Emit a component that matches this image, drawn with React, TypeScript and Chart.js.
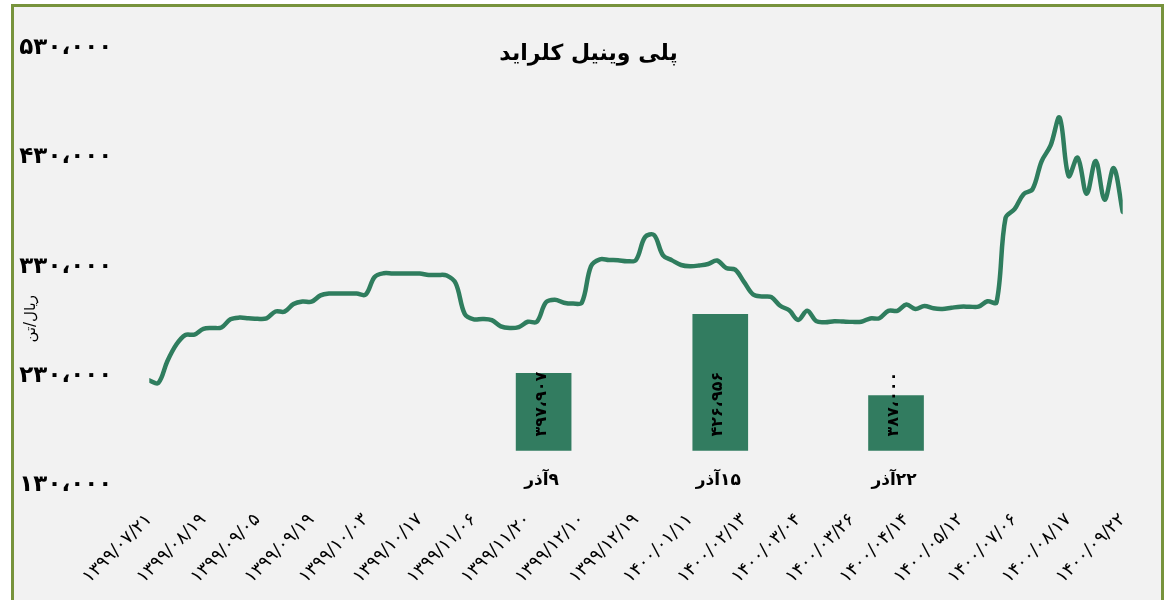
import React, { useEffect, useRef } from 'react';
import { Chart, registerables } from 'chart.js';

Chart.register(...registerables);

const chartTitle = 'پلی وینیل کلراید';
const yAxisTitle = 'ریال/تن';

const tickLabels = [
  '۱۳۹۹/۰۷/۲۱', '۱۳۹۹/۰۸/۱۹', '۱۳۹۹/۰۹/۰۵', '۱۳۹۹/۰۹/۱۹', '۱۳۹۹/۱۰/۰۳',
  '۱۳۹۹/۱۰/۱۷', '۱۳۹۹/۱۱/۰۶', '۱۳۹۹/۱۱/۲۰', '۱۳۹۹/۱۲/۱۰', '۱۳۹۹/۱۲/۱۹',
  '۱۴۰۰/۰۱/۱۱', '۱۴۰۰/۰۲/۱۳', '۱۴۰۰/۰۳/۰۴', '۱۴۰۰/۰۳/۲۶', '۱۴۰۰/۰۴/۱۴',
  '۱۴۰۰/۰۵/۱۲', '۱۴۰۰/۰۷/۰۶', '۱۴۰۰/۰۸/۱۷', '۱۴۰۰/۰۹/۲۲',
];

// points between two labelled dates
const pointsPerLabel = 6;

const priceValues = [
  228650, 226210, 246150, 261400, 270160, 270520, 275760, 276570, 277020, 284510,
  286050, 285500, 284960, 285410, 291640, 291550, 298500, 300850, 300580, 306350,
  308070, 308070, 308070, 308070, 307070, 323230, 326570, 326390, 326390, 326390,
  326390, 325030, 325030, 324490, 317360, 289290, 284420, 284870, 283700, 278010,
  276480, 277380, 282250, 282250, 299940, 302470, 299670, 298860, 299940, 332980,
  339380, 338750, 338570, 337670, 338750, 359690, 361580, 342990, 338390, 334150,
  333070, 333700, 335050, 338210, 331350, 329910, 318540, 307160, 305360, 304820,
  296880, 292720, 283970, 292270, 282800, 281890, 282800, 282440, 282160, 282350,
  285320, 285500, 292180, 292270, 297960, 293990, 296690, 294530, 293990, 295070,
  296060, 296060, 296060, 301030, 299940, 377110, 385230, 398950, 403460, 429000,
  443440, 469000, 415460, 432340, 399220, 429270, 393800, 422680, 382700,
];

const barCategories = ['۹آذر', '۱۵آذر', '۲۲آذر'];
const barValues = [397907, 426956, 387000];
// where each bar sits along the date axis (point index)
const barPositions = [43.75, 63.35, 82.85];
const barBase = 360000;

const yTicks = { min: 130000, max: 530000, step: 100000 };

const LINE_COLOR = '#2F7D5E';
const BAR_COLOR = '#327C60';
const FONT = '"DejaVu Sans"';

const toFa = (s: string) => s.replace(/[0-9]/g, (d) => '۰۱۲۳۴۵۶۷۸۹'[+d]);
const fmt = (v: number) =>
  toFa(Math.round(v).toString().replace(/\B(?=(\d{3})+(?!\d))/g, '،'));

const overlayPlugin = {
  id: 'overlayText',
  afterDatasetsDraw(chart: any) {
    const ctx: CanvasRenderingContext2D = chart.ctx;
    const area = chart.chartArea;
    ctx.save();
    ctx.fillStyle = '#000';

    // title
    ctx.direction = 'rtl';
    ctx.textAlign = 'center';
    ctx.textBaseline = 'middle';
    ctx.font = `bold 22px ${FONT}`;
    ctx.fillText(chartTitle, chart.width / 2 + 5, area.top + 3);

    // y axis title
    const ys = chart.scales.y;
    ctx.save();
    ctx.translate(31, ys.getPixelForValue(285000));
    ctx.rotate(-Math.PI / 2);
    ctx.font = `15px ${FONT}`;
    ctx.fillText(yAxisTitle, 0, 0);
    ctx.restore();

    // bar labels
    const meta = chart.getDatasetMeta(1);
    meta.data.forEach((bar: any, i: number) => {
      const { x, base } = bar.getProps(['x', 'base'], true);
      ctx.save();
      ctx.translate(x - 2, base - 14);
      ctx.rotate(-Math.PI / 2);
      ctx.direction = 'ltr';
      ctx.textAlign = 'left';
      ctx.textBaseline = 'middle';
      ctx.font = `bold 16px ${FONT}`;
      ctx.fillText(fmt(barValues[i]), 0, 0);
      ctx.restore();

      ctx.direction = 'rtl';
      ctx.textAlign = 'center';
      ctx.textBaseline = 'middle';
      ctx.font = `bold 17px ${FONT}`;
      ctx.fillText(barCategories[i], x - 2, base + 30);
    });
    ctx.restore();
  },
};

export default function App() {
  const ref = useRef<HTMLCanvasElement>(null);

  useEffect(() => {
    Chart.defaults.font.family = FONT;
    const lastIndex = (tickLabels.length - 1) * pointsPerLabel;
    const chart = new Chart(ref.current as HTMLCanvasElement, {
      type: 'line',
      data: {
        datasets: [
          {
            type: 'line',
            label: 'PVC',
            data: priceValues.map((v, i) => ({ x: i, y: v })),
            xAxisID: 'x',
            yAxisID: 'y',
            borderColor: LINE_COLOR,
            borderWidth: 4.5,
            pointRadius: 0,
            tension: 0.35,
            fill: false,
            borderCapStyle: 'round',
            borderJoinStyle: 'round',
          } as any,
          {
            type: 'bar',
            label: 'bars',
            data: barValues.map((v, i) => ({ x: barPositions[i], y: v })),
            xAxisID: 'x',
            yAxisID: 'y2',
            backgroundColor: BAR_COLOR,
            barThickness: 55,
            base: barBase,
          } as any,
        ],
      },
      options: {
        responsive: false,
        animation: false,
        devicePixelRatio: 1,
        layout: { padding: { top: 45.1, right: 44.3, left: 0, bottom: 0 } },
        plugins: {
          legend: { display: false },
          tooltip: { enabled: false },
          title: { display: false },
        },
        scales: {
          x: {
            type: 'linear',
            min: 0,
            max: lastIndex,
            offset: false,
            grid: { display: false, drawTicks: false, offset: false },
            border: { display: false },
            ticks: {
              stepSize: pointsPerLabel,
              autoSkip: false,
              maxRotation: 45,
              minRotation: 45,
              padding: 21,
              color: '#000',
              font: { size: 18 },
              callback: (v: any) =>
                Number.isInteger(v / pointsPerLabel) ? tickLabels[v / pointsPerLabel] : '',
            },
            afterFit: (s: any) => {
              s.height = 111.7;
            },
          },
          y: {
            type: 'linear',
            min: yTicks.min,
            max: yTicks.max,
            grid: { display: false, drawTicks: false },
            border: { display: false },
            ticks: {
              stepSize: yTicks.step,
              padding: 37,
              labelOffset: -3,
              color: '#000',
              font: { size: 23, weight: 'bold' },
              callback: (v: any) => fmt(Number(v)),
            },
            afterFit: (s: any) => {
              s.width = 149.3;
            },
          },
          y2: { type: 'linear', display: false, min: 341400, max: 556600 },
        },
      } as any,
      plugins: [overlayPlugin],
    });
    return () => chart.destroy();
  }, []);

  return (
    <div
      style={{
        position: 'fixed',
        left: 0,
        top: 0,
        width: 1167,
        height: 600,
        overflow: 'hidden',
        background: '#fff',
      }}
    >
      <div
        style={{
          position: 'absolute',
          left: 11,
          top: 4,
          width: 1153,
          height: 700,
          border: '3px solid #77933C',
          background: '#F2F2F2',
          boxSizing: 'border-box',
        }}
      />
      <canvas
        ref={ref}
        width={1167}
        height={600}
        style={{ position: 'absolute', left: 0, top: 0, width: 1167, height: 600 }}
      />
    </div>
  );
}
